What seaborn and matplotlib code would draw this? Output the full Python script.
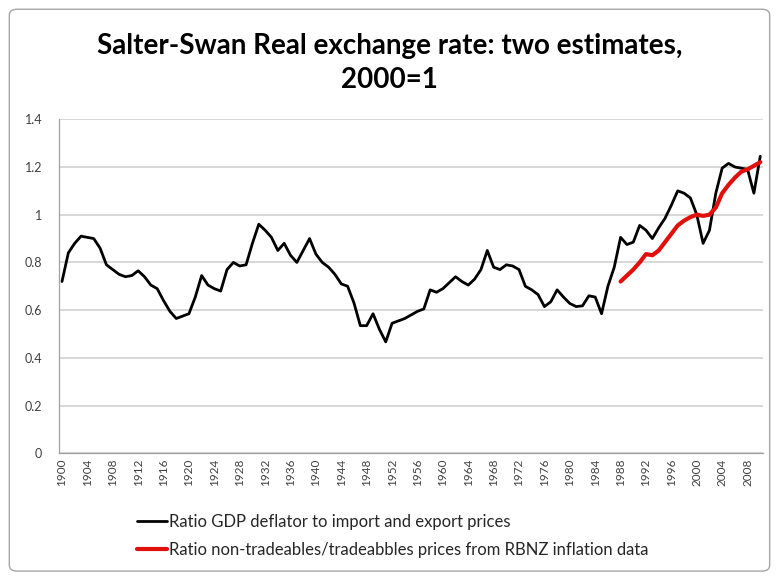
import numpy as np
import pandas as pd
import matplotlib
matplotlib.use("Agg")
import matplotlib.pyplot as plt
from matplotlib.patches import FancyBboxPatch
import seaborn as sns

# GDP deflator / import+export prices, 1900-2010 (2000=1)
years = list(range(1900, 2011))
gdp_ratio = [
    0.72, 0.84, 0.88, 0.91, 0.905, 0.90, 0.86, 0.79, 0.77, 0.75,      # 1900s
    0.74, 0.745, 0.765, 0.74, 0.705, 0.69, 0.64, 0.595, 0.565, 0.575,  # 1910s
    0.585, 0.655, 0.745, 0.705, 0.69, 0.68, 0.77, 0.80, 0.785, 0.79,   # 1920s
    0.88, 0.96, 0.935, 0.905, 0.85, 0.88, 0.83, 0.80, 0.85, 0.90,      # 1930s
    0.835, 0.80, 0.78, 0.75, 0.71, 0.70, 0.63, 0.535, 0.535, 0.585,    # 1940s
    0.52, 0.467, 0.545, 0.555, 0.565, 0.58, 0.595, 0.605, 0.685, 0.675,  # 1950s
    0.69, 0.715, 0.74, 0.72, 0.705, 0.73, 0.77, 0.85, 0.78, 0.77,      # 1960s
    0.79, 0.785, 0.77, 0.70, 0.685, 0.665, 0.615, 0.635, 0.685, 0.655,  # 1970s
    0.628, 0.615, 0.618, 0.66, 0.655, 0.585, 0.70, 0.78, 0.905, 0.875,  # 1980s
    0.885, 0.955, 0.935, 0.90, 0.945, 0.985, 1.04, 1.10, 1.09, 1.07,   # 1990s
    1.00, 0.88, 0.935, 1.09, 1.195, 1.215, 1.20, 1.195, 1.19, 1.09,    # 2000s
    1.245,
]

# non-tradeables / tradeables prices (RBNZ), 1988-2010
rbnz_years = list(range(1988, 2011))
rbnz_ratio = [
    0.72, 0.745, 0.77, 0.80, 0.835, 0.83, 0.85, 0.885, 0.92, 0.955,
    0.975, 0.99, 1.00, 0.995, 1.00, 1.03, 1.09, 1.125, 1.155, 1.18,
    1.19, 1.205, 1.22,
]

label_gdp = "Ratio GDP deflator to import and export prices"
label_rbnz = "Ratio non-tradeables/tradeabbles prices from RBNZ inflation data"

df_gdp = pd.DataFrame({"year": years, "ratio": gdp_ratio})
df_rbnz = pd.DataFrame({"year": rbnz_years, "ratio": rbnz_ratio})

sns.set_style("white")
plt.rcParams["font.family"] = ["Lato", "DejaVu Sans"]

fig = plt.figure(figsize=(7.79, 5.78), dpi=100)
ax = fig.add_axes([0.0755, 0.2157, 0.9045, 0.578])

sns.lineplot(data=df_gdp, x="year", y="ratio", ax=ax, color="black",
             linewidth=2.0, label=label_gdp)
sns.lineplot(data=df_rbnz, x="year", y="ratio", ax=ax, color="#e0100c",
             linewidth=3.0, label=label_rbnz)

ax.set_xlim(1899.5, 2010.5)
ax.set_ylim(0, 1.4)
ax.set_xlabel("")
ax.set_ylabel("")

# y axis
yt = np.round(np.arange(0, 1.41, 0.2), 1)
ax.set_yticks(yt)
ax.set_yticklabels([f"{v:g}" for v in yt], fontsize=9, color="#404040")
ax.yaxis.grid(True, color="#d4d4d4", linewidth=1.3)
ax.set_axisbelow(True)

# x axis: category style ticks
ax.set_xticks(years[::4])
ax.set_xticklabels([str(y) for y in years[::4]], rotation=90, fontsize=8.5,
                   color="#404040")
ax.set_xticks(np.arange(1899.5, 2011, 1), minor=True)
ax.tick_params(axis="x", which="major", length=0, pad=4)
ax.tick_params(axis="x", which="minor", length=4, color="#a0a0a0", width=0.8)
ax.tick_params(axis="y", which="major", length=5, color="#a0a0a0", width=0.8, pad=7)

for side in ["top", "right"]:
    ax.spines[side].set_visible(False)
for side in ["left", "bottom"]:
    ax.spines[side].set_color("#a0a0a0")
    ax.spines[side].set_linewidth(0.9)

fig.text(0.5, 1 - 63 / 578, "Salter-Swan Real exchange rate: two estimates,\n2000=1",
         ha="center", va="center", fontsize=20, fontweight="bold",
         linespacing=1.35, color="black")

ax.legend(loc="upper left", bbox_to_anchor=(122 / 779, 1 - 499 / 578),
          bbox_transform=fig.transFigure, frameon=False, fontsize=12,
          handlelength=1.8, handletextpad=0.1, labelspacing=0.7)

border = FancyBboxPatch((0.012, 0.012), 0.976, 0.972, transform=fig.transFigure,
                        boxstyle="round,pad=0,rounding_size=0.01",
                        facecolor="none", edgecolor="#a6a6a6", linewidth=1.0)
fig.patches.append(border)

fig.savefig("out.png", dpi=100)
